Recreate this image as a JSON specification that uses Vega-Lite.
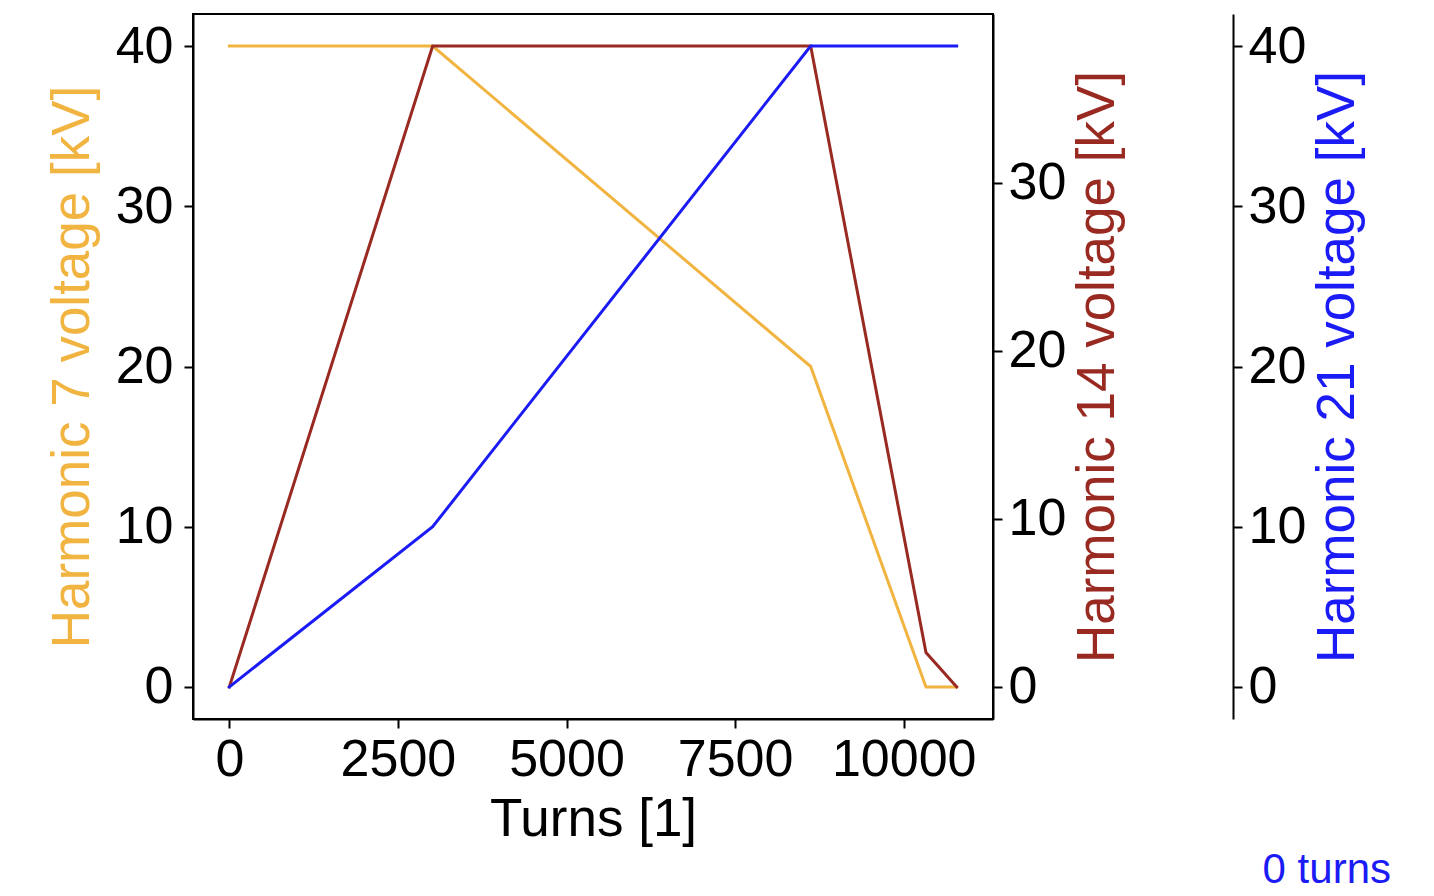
{
  "$schema": "https://vega.github.io/schema/vega-lite/v6.json",
  "autosize": {"type": "none"},
  "width": 800,
  "height": 705,
  "padding": {"left": 193, "top": 14, "right": 441, "bottom": 177},
  "background": "white",
  "config": {
    "font": "Liberation Sans",
    "view": {"stroke": "black", "strokeWidth": 2},
    "axis": {
      "labelFont": "Liberation Sans",
      "titleFont": "Liberation Sans",
      "labelFontSize": 52,
      "titleFontSize": 53,
      "titleFontWeight": "normal",
      "labelColor": "black",
      "titleColor": "black",
      "domainColor": "black",
      "domainWidth": 2,
      "tickColor": "black",
      "tickWidth": 2,
      "tickSize": 9,
      "labelPadding": 6,
      "grid": false,
      "labelFlush": false,
      "labelOverlap": false
    }
  },
  "title": {
    "text": "0 turns",
    "orient": "bottom",
    "anchor": "end",
    "frame": "group",
    "color": "#1b1bf5",
    "font": "Liberation Sans",
    "fontSize": 42,
    "fontWeight": "normal",
    "dx": 398,
    "offset": 4
  },
  "data": {
    "values": [
      {"turns": 0, "h7": 40, "h14": 0, "h21": 0},
      {"turns": 3015, "h7": 40, "h14": 38.15, "h21": 10},
      {"turns": 8620, "h7": 20, "h14": 38.15, "h21": 40},
      {"turns": 10330, "h7": 0, "h14": 2.05, "h21": 40},
      {"turns": 10785, "h7": 0, "h14": 0, "h21": 40}
    ]
  },
  "encoding": {
    "x": {
      "field": "turns",
      "type": "quantitative",
      "scale": {"domain": [-539, 11324], "nice": false, "zero": false},
      "axis": {"values": [0, 2500, 5000, 7500, 10000], "title": "Turns [1]", "titlePadding": 8, "format": "d"}
    }
  },
  "layer": [
    {
      "mark": {"type": "line", "color": "#f2b440", "strokeWidth": 3, "strokeCap": "square"},
      "encoding": {
        "y": {
          "field": "h7",
          "type": "quantitative",
          "scale": {"domain": [-2, 42], "nice": false, "zero": false},
          "axis": {"orient": "left", "values": [0, 10, 20, 30, 40], "labelPadding": 11, "title": "Harmonic 7 voltage [kV]", "titleColor": "#f2b440", "titlePadding": 16}
        }
      }
    },
    {
      "mark": {"type": "line", "color": "#982a22", "strokeWidth": 3, "strokeCap": "square"},
      "encoding": {
        "y": {
          "field": "h14",
          "type": "quantitative",
          "scale": {"domain": [-1.9075, 40.0575], "nice": false, "zero": false},
          "axis": {"orient": "right", "values": [0, 10, 20, 30], "title": "Harmonic 14 voltage [kV]", "titleColor": "#982a22", "titleAngle": 270, "titlePadding": 59}
        }
      }
    },
    {
      "mark": {"type": "line", "color": "#1b1bf5", "strokeWidth": 3, "strokeCap": "square"},
      "encoding": {
        "y": {
          "field": "h21",
          "type": "quantitative",
          "scale": {"domain": [-2, 42], "nice": false, "zero": false},
          "axis": {"orient": "right", "offset": 240, "values": [0, 10, 20, 30, 40], "title": "Harmonic 21 voltage [kV]", "titleColor": "#1b1bf5", "titleAngle": 270, "titlePadding": 59}
        }
      }
    }
  ],
  "resolve": {"scale": {"y": "independent"}}
}
